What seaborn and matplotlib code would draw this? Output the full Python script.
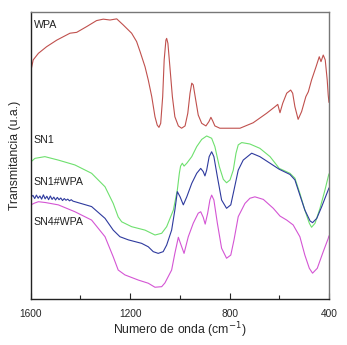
import numpy as np
import pandas as pd
import matplotlib
matplotlib.use("Agg")
import matplotlib.pyplot as plt
from matplotlib.ticker import MultipleLocator
import seaborn as sns

# FTIR spectra, transmittance in arbitrary units (0-100 of the frame height)
wn_wpa = [1600, 1590, 1569, 1536, 1495, 1442, 1415, 1375, 1335, 1308, 1281, 1254,
          1228, 1194, 1174, 1160, 1140, 1127, 1113, 1100, 1091, 1084, 1077, 1069,
          1063, 1056, 1053, 1048, 1040, 1030, 1020, 1006, 993, 979, 968, 959, 952,
          946, 936, 926, 912, 895, 883, 875, 868, 859, 839, 758, 705, 651, 617,
          606, 597, 586, 570, 554, 546, 537, 524, 510, 493, 483, 470, 452, 439,
          432, 423, 415, 407, 403, 400]
t_wpa = [79.2, 83.3, 85.6, 87.9, 90.2, 92.6, 92.9, 94.9, 97.0, 97.5, 97.2, 97.6,
         95.5, 92.6, 89.7, 86.2, 80.9, 76.3, 70.5, 63.5, 60.6, 59.8, 61.2, 70.5,
         83.3, 90.2, 90.8, 89.1, 80.9, 70.5, 63.5, 60.3, 59.5, 60.3, 64.7, 71.7,
         75.2, 74.6, 69.3, 64.1, 61.2, 60.3, 61.8, 63.3, 62.1, 60.3, 59.5, 59.5,
         61.4, 64.7, 67.0, 67.8, 64.9, 68.2, 71.7, 72.8, 71.7, 67.0, 62.6, 65.3,
         70.5, 72.2, 76.3, 80.9, 84.4, 82.7, 85.0, 83.3, 76.3, 71.1, 68.5]

wn_sn1 = [1599, 1583, 1543, 1489, 1422, 1355, 1301, 1268, 1248, 1234, 1194, 1140,
          1100, 1073, 1053, 1026, 1010, 1002, 997, 990, 983, 972, 952, 932, 912,
          892, 872, 859, 841, 825, 812, 798, 785, 774, 765, 751, 718, 678, 637,
          600, 592, 557, 537, 517, 497, 479, 470, 456, 436, 416, 403, 400]
t_sn1 = [47.8, 49.0, 49.6, 48.4, 46.7, 43.8, 39.1, 33.3, 28.6, 26.9, 25.2, 24.0,
         22.3, 22.9, 25.2, 31.0, 38.0, 43.8, 46.3, 47.3, 46.3, 47.3, 49.6, 53.1,
         55.6, 56.8, 56.0, 53.1, 46.1, 41.7, 40.5, 41.5, 44.9, 50.8, 53.7, 54.5,
         54.0, 52.5, 49.6, 45.5, 45.2, 43.8, 42.1, 36.8, 31.0, 26.4, 25.0, 26.4,
         31.6, 38.0, 42.6, 43.6]

wn_sn1wpa = [1598, 1591, 1584, 1577, 1570, 1563, 1556, 1549, 1542, 1535, 1528,
             1521, 1514, 1507, 1500, 1493, 1486, 1479, 1472, 1465, 1458, 1451,
             1444, 1437, 1430, 1422, 1355, 1301, 1268, 1241, 1207, 1154, 1127,
             1107, 1087, 1067, 1053, 1033, 1020, 1010, 999, 986, 972, 952, 932,
             916, 906, 899, 892, 882, 872, 863, 849, 832, 812, 795, 782, 765, 745,
             711, 678, 637, 600, 557, 537, 517, 497, 476, 466, 449, 429, 403, 400]
t_sn1wpa = [35.6, 36.1, 35.0, 36.2, 35.1, 35.9, 34.8, 36.3, 34.9, 35.8, 34.6,
            35.9, 34.7, 35.5, 34.5, 35.4, 34.6, 35.2, 34.3, 35.0, 34.4, 34.8,
            34.2, 34.6, 34.1, 33.9, 32.2, 28.1, 24.0, 21.7, 20.6, 19.4, 18.2,
            16.5, 15.9, 16.5, 18.8, 24.0, 31.0, 37.4, 35.6, 32.8, 35.6, 40.3,
            43.8, 45.5, 44.4, 42.9, 44.9, 49.6, 51.3, 49.6, 42.6, 34.5, 31.6,
            32.8, 38.0, 44.9, 48.4, 50.8, 49.6, 47.3, 45.2, 43.4, 41.5, 36.2,
            31.0, 27.2, 26.6, 28.1, 32.2, 38.0, 38.7]

wn_sn4wpa = [1599, 1585, 1569, 1540, 1489, 1422, 1355, 1301, 1268, 1248, 1221,
             1167, 1127, 1100, 1073, 1060, 1033, 1020, 1006, 995, 983, 966, 946,
             926, 916, 906, 898, 888, 879, 872, 863, 849, 832, 812, 795, 782, 765,
             738, 718, 698, 664, 624, 597, 570, 544, 517, 497, 479, 466, 447, 423,
             403, 400]
t_sn4wpa = [32.8, 33.4, 33.9, 33.6, 32.8, 30.4, 27.5, 21.7, 14.7, 10.1, 8.4,
            6.6, 5.5, 4.1, 4.3, 5.6, 10.1, 15.9, 21.5, 18.8, 15.9, 21.7, 26.4,
            29.9, 30.4, 28.5, 26.1, 29.9, 34.5, 36.2, 34.5, 26.4, 17.7, 14.2,
            15.3, 20.6, 28.7, 33.3, 35.1, 35.6, 34.7, 31.6, 28.9, 27.5, 25.8,
            21.7, 15.3, 10.7, 9.0, 10.7, 16.5, 21.1, 22.0]

labels = ["WPA", "SN1", "SN1#WPA", "SN4#WPA"]
colors = ["#c0504d", "#6ee06e", "#2e3a9e", "#d455d4"]
label_y = [95.5, 55.4, 40.8, 26.8]

series = [(wn_wpa, t_wpa), (wn_sn1, t_sn1), (wn_sn1wpa, t_sn1wpa),
          (wn_sn4wpa, t_sn4wpa)]

sns.set_style("white")
plt.rcParams["font.family"] = ["Liberation Sans", "DejaVu Sans"]

fig = plt.figure(figsize=(3.47, 3.45), dpi=100)
ax = fig.add_axes([0.0885, 0.1333, 0.8595, 0.832])

for (wn, t), col in zip(series, colors):
    df = pd.DataFrame({"wn": wn, "t": t})
    sns.lineplot(data=df, x="wn", y="t", color=col, lw=0.8, ax=ax,
                 estimator=None, sort=False)

for lab, ly in zip(labels, label_y):
    ax.text(1587, ly, lab, fontsize=7.7, color="#222222", va="center", ha="left")

ax.set_xlim(1600, 400)
ax.set_ylim(0, 100)
ax.xaxis.set_major_locator(MultipleLocator(400))
ax.xaxis.set_minor_locator(MultipleLocator(200))
ax.tick_params(axis="x", which="major", direction="in", length=4, width=0.8,
               labelsize=7.3, pad=7, bottom=True, top=False)
ax.tick_params(axis="x", which="minor", direction="in", length=3, width=0.8,
               bottom=True, top=False)
ax.set_yticks([])
ax.set_xlabel("Numero de onda (cm$^{-1}$)", fontsize=8.8, labelpad=1)
ax.set_ylabel("Transmitancia (u.a.)", fontsize=8.8, labelpad=7)

for side in ["left", "bottom"]:
    ax.spines[side].set_color("#222222")
    ax.spines[side].set_linewidth(1.0)
for side in ["top", "right"]:
    ax.spines[side].set_color("#777777")
    ax.spines[side].set_linewidth(1.0)

fig.savefig("out.png", dpi=100)
